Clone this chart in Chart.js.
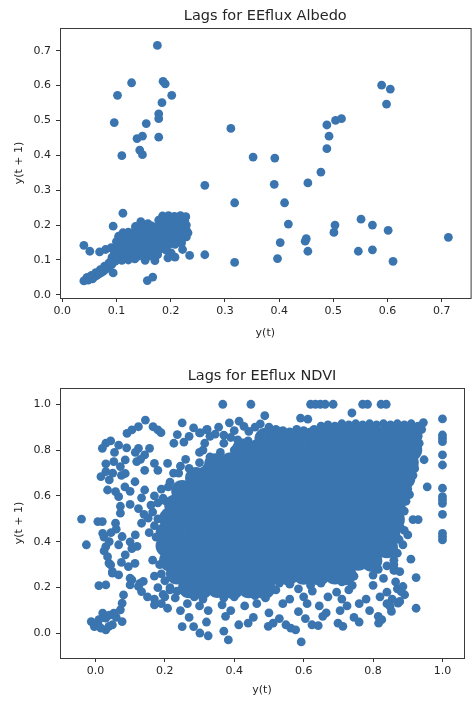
<!DOCTYPE html>
<html>
<head>
<meta charset="utf-8">
<script src="https://cdn.jsdelivr.net/npm/chart.js@4.4.1/dist/chart.umd.min.js"></script>
<style>
  html, body { margin: 0; padding: 0; background: #fff; }
  canvas { position: absolute; left: 0; display: block; }
</style>
</head>
<body>
<canvas id="albedo" width="475" height="350" style="top:0"></canvas>
<canvas id="ndvi" width="475" height="351" style="top:350px"></canvas>
<script>
// tick values
const albedoXTicks = [0, 0.1, 0.2, 0.3, 0.4, 0.5, 0.6, 0.7];
const albedoYTicks = [0, 0.1, 0.2, 0.3, 0.4, 0.5, 0.6, 0.7];
const ndviXTicks = [0, 0.2, 0.4, 0.6, 0.8, 1.0];
const ndviYTicks = [0, 0.2, 0.4, 0.6, 0.8, 1.0];

// albedo lag pairs [y(t), y(t+1)]
const albedoLags = [
  // scattered
  [0.1755,0.715],[0.128,0.608],[0.186,0.612],[0.190,0.605],[0.102,0.572],[0.202,0.572],[0.184,0.551],
  [0.096,0.494],[0.178,0.519],[0.178,0.505],[0.155,0.491],[0.138,0.448],[0.148,0.455],[0.178,0.452],
  [0.143,0.415],[0.148,0.402],[0.110,0.399],[0.311,0.477],[0.352,0.395],[0.392,0.392],[0.391,0.317],
  [0.318,0.264],[0.410,0.264],[0.417,0.203],[0.402,0.150],[0.397,0.104],[0.263,0.314],[0.263,0.115],
  [0.318,0.093],[0.448,0.154],[0.450,0.161],[0.453,0.125],[0.453,0.321],[0.477,0.352],[0.488,0.419],
  [0.492,0.455],[0.488,0.487],[0.504,0.500],[0.515,0.505],[0.503,0.200],[0.501,0.179],[0.551,0.217],
  [0.572,0.200],[0.546,0.125],[0.572,0.129],[0.601,0.185],[0.610,0.096],[0.589,0.601],[0.605,0.590],
  [0.598,0.547],[0.712,0.165],
  // main cluster
  [0.112,0.234],[0.185,0.226],[0.196,0.227],[0.207,0.225],[0.218,0.227],[0.228,0.224],
  [0.145,0.210],[0.158,0.204],[0.178,0.214],[0.190,0.216],[0.202,0.214],[0.214,0.216],[0.226,0.213],
  [0.094,0.197],[0.135,0.196],[0.150,0.194],[0.165,0.198],[0.178,0.200],[0.190,0.202],[0.205,0.201],[0.218,0.203],[0.229,0.200],
  [0.112,0.178],[0.122,0.180],[0.134,0.183],[0.146,0.185],[0.158,0.184],[0.170,0.187],[0.182,0.185],[0.194,0.188],[0.206,0.186],[0.218,0.188],[0.229,0.185],
  [0.104,0.168],[0.116,0.171],[0.128,0.169],[0.140,0.172],[0.152,0.170],[0.164,0.173],[0.176,0.171],[0.188,0.174],[0.200,0.172],[0.212,0.174],[0.224,0.171],[0.229,0.166],
  [0.100,0.153],[0.112,0.156],[0.124,0.154],[0.136,0.157],[0.148,0.155],[0.160,0.158],[0.172,0.156],[0.184,0.159],[0.196,0.157],[0.208,0.159],[0.220,0.156],[0.232,0.178],
  [0.090,0.135],[0.100,0.140],[0.112,0.142],[0.124,0.140],[0.136,0.143],[0.148,0.141],[0.160,0.144],[0.172,0.142],[0.184,0.145],[0.196,0.143],[0.208,0.145],[0.220,0.148],
  [0.096,0.124],[0.108,0.127],[0.120,0.125],[0.132,0.128],[0.144,0.126],[0.156,0.129],[0.168,0.127],[0.180,0.130],[0.192,0.128],[0.201,0.120],[0.222,0.130],
  [0.092,0.108],[0.104,0.112],[0.116,0.110],[0.128,0.113],[0.140,0.111],[0.152,0.114],[0.164,0.112],[0.176,0.115],[0.195,0.106],[0.208,0.108],[0.235,0.113],
  [0.098,0.097],[0.110,0.099],[0.122,0.100],[0.134,0.103],[0.153,0.099],[0.171,0.098],
  [0.040,0.040],[0.044,0.045],[0.048,0.042],[0.052,0.048],[0.056,0.046],[0.060,0.052],[0.064,0.056],[0.068,0.060],
  [0.072,0.064],[0.076,0.068],[0.080,0.073],[0.084,0.078],[0.088,0.083],[0.092,0.088],[0.086,0.090],[0.078,0.082],
  [0.070,0.072],[0.062,0.064],[0.054,0.056],[0.046,0.050],[0.094,0.063],[0.088,0.094],
  [0.040,0.142],[0.051,0.125],[0.069,0.123],[0.080,0.130],[0.157,0.041],[0.167,0.051]
];

// ndvi lag pairs, solid middle of the cloud (drawn with wider dots)
const ndviCore = [
  [0.49,0.85],[0.535,0.853],[0.58,0.848],[0.625,0.852],
  [0.665,0.866],[0.71,0.862],[0.755,0.867],[0.80,0.864],[0.845,0.868],[0.885,0.863],[0.91,0.866],
  [0.425,0.803],[0.468,0.799],[0.512,0.804],[0.557,0.798],[0.602,0.802],[0.648,0.799],[0.692,0.803],[0.737,0.798],[0.782,0.802],[0.828,0.799],[0.872,0.803],[0.91,0.80],
  [0.345,0.738],[0.39,0.743],[0.435,0.739],[0.48,0.741],[0.525,0.737],[0.57,0.742],[0.615,0.738],[0.66,0.743],[0.705,0.739],[0.75,0.741],[0.795,0.737],[0.84,0.742],[0.885,0.739],[0.90,0.745],
  [0.29,0.678],[0.32,0.683],[0.367,0.679],[0.412,0.682],[0.457,0.678],[0.502,0.683],[0.547,0.679],[0.592,0.681],[0.637,0.677],[0.682,0.682],[0.727,0.679],[0.772,0.683],[0.817,0.678],[0.862,0.681],[0.89,0.676],
  [0.25,0.622],[0.285,0.618],[0.33,0.621],[0.375,0.617],[0.42,0.623],[0.465,0.619],[0.51,0.622],[0.555,0.618],[0.60,0.621],[0.645,0.617],[0.69,0.622],[0.735,0.619],[0.78,0.623],[0.825,0.618],[0.87,0.62],
  [0.23,0.558],[0.262,0.562],[0.307,0.559],[0.352,0.563],[0.397,0.558],[0.442,0.561],[0.487,0.557],[0.532,0.562],[0.577,0.559],[0.622,0.563],[0.667,0.558],[0.712,0.561],[0.757,0.557],[0.802,0.562],[0.847,0.559],[0.862,0.556],
  [0.215,0.502],[0.24,0.498],[0.285,0.501],[0.33,0.497],[0.375,0.503],[0.42,0.499],[0.465,0.502],[0.51,0.498],[0.555,0.501],[0.60,0.497],[0.645,0.503],[0.69,0.499],[0.735,0.502],[0.78,0.498],[0.825,0.501],[0.86,0.497],
  [0.205,0.438],[0.24,0.442],[0.262,0.437],[0.307,0.441],[0.352,0.438],[0.397,0.443],[0.442,0.439],[0.487,0.442],[0.532,0.437],[0.577,0.441],[0.622,0.438],[0.667,0.443],[0.712,0.439],[0.757,0.442],[0.802,0.438],[0.847,0.44],
  [0.205,0.382],[0.24,0.378],[0.285,0.381],[0.33,0.377],[0.375,0.383],[0.42,0.379],[0.465,0.382],[0.51,0.378],[0.555,0.381],[0.60,0.377],[0.645,0.383],[0.69,0.379],[0.735,0.382],[0.78,0.378],[0.825,0.381],[0.84,0.376],
  [0.215,0.318],[0.24,0.322],[0.262,0.317],[0.307,0.321],[0.352,0.318],[0.397,0.323],[0.442,0.319],[0.487,0.322],[0.532,0.317],[0.577,0.321],[0.622,0.318],[0.667,0.323],[0.712,0.319],[0.757,0.322],[0.795,0.318],
  [0.235,0.262],[0.285,0.258],[0.33,0.261],[0.375,0.257],[0.42,0.263],[0.465,0.259],[0.51,0.262],[0.555,0.258],[0.60,0.261],[0.645,0.257],[0.69,0.262],[0.72,0.258],
  [0.27,0.202],[0.307,0.198],[0.352,0.203],[0.397,0.199],[0.442,0.202],[0.487,0.198]
];

// ndvi lag pairs, everything around the solid middle
const ndviLags = [
  // y(t+1) = 1 and y(t) = 1
  [0.367,1],[0.448,1],[0.620,1],[0.634,1],[0.648,1],[0.662,1],[0.685,1],[0.770,1],[0.784,1],[0.823,1],[0.838,1],
  [1,0.936],[1,0.866],[1,0.852],[1,0.837],[1,0.779],[1,0.735],[1,0.634],[1,0.597],[1,0.583],[1,0.568],[1,0.52],[1,0.437],[1,0.423],[1,0.408],
  [0.956,0.64],[-0.040,0.499],[-0.026,0.387],[0.007,0.488],[0.020,0.488],[0.021,0.437],[0.010,0.209],[0.030,0.212],
  [0.383,-0.028],[0.593,-0.037],[0.739,0.962],[0.488,0.950],[0.591,0.940],[0.612,0.935],
  // top band
  [0.30,0.875],[0.322,0.890],[0.345,0.870],[0.355,0.900],[0.37,0.865],[0.386,0.919],[0.40,0.885],[0.414,0.926],
  [0.428,0.904],[0.442,0.882],[0.46,0.90],[0.475,0.914],[0.50,0.90],[0.52,0.89],[0.54,0.885],[0.56,0.88],[0.58,0.89],
  [0.60,0.885],[0.63,0.89],[0.65,0.905],[0.67,0.91],[0.69,0.905],[0.71,0.915],[0.73,0.91],[0.75,0.915],[0.77,0.91],
  [0.79,0.915],[0.81,0.91],[0.83,0.915],[0.85,0.91],[0.87,0.915],[0.89,0.91],[0.91,0.915],[0.93,0.905],[0.94,0.89],
  [0.31,0.80],[0.33,0.77],[0.36,0.79],[0.38,0.765],[0.40,0.80],[0.37,0.83],[0.41,0.845],[0.30,0.745],[0.32,0.72],[0.39,0.855],[0.44,0.84],
  // upper left
  [0.020,0.808],[0.030,0.830],[0.044,0.840],[0.067,0.822],[0.091,0.873],[0.105,0.888],[0.124,0.902],[0.144,0.931],
  [0.166,0.902],[0.180,0.888],[0.189,0.876],[0.124,0.808],[0.142,0.779],[0.156,0.808],[0.170,0.742],
  [0.142,0.712],[0.119,0.750],[0.086,0.698],[0.114,0.662],[0.142,0.626],[0.180,0.712],[0.208,0.742],
  [0.226,0.830],[0.236,0.868],[0.250,0.919],[0.283,0.897],[0.302,0.875],[0.320,0.888],[0.016,0.684],[0.030,0.706],
  [0.040,0.670],[0.035,0.626],[0.058,0.619],[0.067,0.597],[0.053,0.750],[0.072,0.728],[0.086,0.757],
  [0.255,0.835],[0.270,0.860],[0.300,0.790],[0.315,0.830],[0.330,0.860],[0.260,0.760],[0.245,0.730],[0.225,0.700],
  [0.215,0.660],[0.190,0.630],[0.170,0.600],[0.195,0.590],[0.100,0.620],
  [0.085,0.640],[0.075,0.690],[0.050,0.700],
  [0.130,0.760],[0.115,0.790],[0.090,0.810],[0.055,0.790],[0.030,0.740],
  [0.072,0.555],[0.100,0.563],[0.133,0.592],[0.160,0.560],[0.180,0.570],
  [0.21,0.64],[0.24,0.70],[0.20,0.58],[0.27,0.72],
  // left side
  [0.058,0.481],[0.072,0.525],[0.124,0.545],[0.133,0.481],[0.152,0.503],[0.030,0.379],
  [0.040,0.401],[0.035,0.335],[0.044,0.299],[0.049,0.270],[0.067,0.256],[0.067,0.387],[0.077,0.423],[0.086,0.343],
  [0.095,0.292],[0.114,0.306],[0.105,0.234],[0.124,0.205],[0.138,0.227],[0.100,0.212],[0.128,0.219],[0.133,0.183],
  [0.100,0.241],[0.039,0.307],[0.049,0.263],
  [0.025,0.420],[0.045,0.440],[0.060,0.455],[0.115,0.430],[0.100,0.400],[0.120,0.380],
  [0.155,0.440],[0.170,0.470],[0.140,0.520],[0.165,0.530],[0.180,0.500],[0.165,0.320],
  [0.170,0.250],[0.180,0.200],[0.105,0.370],[0.075,0.310],
  [0.025,0.360],[0.175,0.420],[0.185,0.300],[0.190,0.260],[0.200,0.230],[0.215,0.200],
  [0.195,0.170],[0.170,0.150],[0.150,0.160],
  // bottom left
  [-0.012,0.052],[-0.003,0.030],[0.030,0.016],[0.049,0.038],[0.021,0.089],[0.053,0.089],[0.077,0.052],[0.072,0.103],
  [0.077,0.132],[0.081,0.168],[0.007,0.045],[0.030,0.067],[0.039,0.031],[0.016,0.023],[0.060,0.070],[0.040,0.080],[0.010,0.060],
  [0.170,0.125],[0.208,0.110],
  // bottom
  [0.79,0.29],[0.815,0.28],[0.84,0.295],[0.86,0.275],
  [0.745,0.25],[0.80,0.255],[0.83,0.24],
  [0.53,0.22],[0.56,0.215],[0.62,0.21],[0.65,0.22],[0.71,0.225],[0.74,0.21],[0.80,0.21],[0.865,0.225],
  [0.215,0.19],[0.235,0.185],[0.52,0.19],[0.585,0.195],[0.625,0.185],[0.695,0.18],[0.73,0.19],[0.84,0.18],[0.87,0.195],
  [0.20,0.16],[0.23,0.155],[0.285,0.16],[0.31,0.15],[0.37,0.155],[0.40,0.16],[0.46,0.165],[0.49,0.155],
  [0.56,0.15],[0.60,0.16],[0.67,0.16],[0.71,0.15],[0.78,0.15],[0.82,0.16],[0.855,0.15],
  [0.19,0.13],[0.265,0.13],[0.30,0.12],[0.365,0.125],[0.43,0.12],[0.465,0.13],
  [0.54,0.13],[0.61,0.13],[0.645,0.12],[0.725,0.12],[0.76,0.13],[0.84,0.13],
  [0.245,0.10],[0.325,0.10],[0.39,0.10],[0.50,0.09],
  [0.585,0.095],[0.665,0.09],[0.705,0.10],[0.79,0.10],
  [0.27,0.07],[0.375,0.075],[0.455,0.07],[0.53,0.065],[0.605,0.065],
  [0.655,0.075],[0.745,0.07],[0.815,0.075],
  [0.25,0.03],[0.283,0.03],[0.32,0.05],[0.413,0.038],[0.44,0.045],[0.498,0.031],[0.512,0.045],
  [0.549,0.038],[0.563,0.023],[0.577,0.016],[0.624,0.038],[0.642,0.034],[0.699,0.045],[0.713,0.031],
  [0.76,0.05],[0.816,0.045],[0.825,0.06],
  [0.301,0.002],[0.325,-0.01],[0.37,0.01],
  // right side
  [0.849,0.118],[0.877,0.140],[0.886,0.205],[0.891,0.169],[0.877,0.270],[0.924,0.110],[0.924,0.244],[0.909,0.324],
  [0.886,0.387],[0.900,0.430],[0.853,0.096],[0.872,0.132],[0.881,0.183],[0.863,0.277],[0.87,0.35],[0.86,0.32],
  [0.875,0.41],[0.89,0.45],[0.945,0.92],[0.947,0.758],[0.933,0.83],[0.905,0.664],[0.905,0.606],[0.895,0.577],
  [0.89,0.534],[0.915,0.497],[0.930,0.497],[0.925,0.80],[0.93,0.86],[0.92,0.72],[0.915,0.69],[0.90,0.63],
  [0.88,0.46],[0.86,0.30]
];

const BLUE = 'rgb(58,117,176)';
const FONT = 'DejaVu Sans';
const INK = '#262626';

// matplotlib-style box round the plot area, and the title centred over it
const frame = {
  id: 'frame',
  afterDraw(chart, args, opts) {
    const { ctx, chartArea: a } = chart;
    ctx.save();
    ctx.strokeStyle = '#3a3a3a';
    ctx.lineWidth = 1;
    ctx.strokeRect(a.left + 0.5, a.top + 0.5, a.right - a.left, a.bottom - a.top);
    ctx.fillStyle = INK;
    ctx.font = '14.5px "' + FONT + '"';
    ctx.textAlign = 'center';
    ctx.textBaseline = 'middle';
    ctx.fillText(opts.text, (a.left + a.right) / 2, opts.y);
    ctx.restore();
  }
};

function axis(range, ticks, label, size, horiz) {
  return {
    type: 'linear',
    position: horiz ? 'bottom' : 'left',
    min: range[0],
    max: range[1],
    afterBuildTicks: s => { s.ticks = ticks.map(v => ({ value: v })); },
    afterFit: s => { if (horiz) s.height = size; else s.width = size; },
    ticks: {
      color: INK, font: { family: FONT, size: 11 }, padding: horiz ? 3 : 5,
      maxRotation: 0, autoSkip: false, callback: v => v.toFixed(1)
    },
    grid: { drawOnChartArea: false, tickLength: 4, color: '#333', tickWidth: 1 },
    border: { display: false },
    title: {
      display: true, text: label, color: INK, font: { family: FONT, size: 11 },
      padding: horiz ? { top: 0, bottom: 0 } : { top: 12.4, bottom: 0 }
    }
  };
}

function lagChart(id, title, sets, o) {
  return new Chart(document.getElementById(id), {
    type: 'scatter',
    data: {
      datasets: sets.map(s => ({
        data: s.pts.map(p => ({ x: p[0], y: p[1] })),
        pointRadius: s.r, pointHoverRadius: s.r,
        backgroundColor: BLUE, borderWidth: 0
      }))
    },
    options: {
      responsive: false, animation: false, events: [],
      layout: { padding: { left: 0, right: 1, top: o.top, bottom: o.padBottom } },
      plugins: {
        legend: { display: false },
        tooltip: { enabled: false },
        title: { display: false },
        frame: { text: title, y: o.titleY }
      },
      scales: {
        x: axis(o.x, o.xTicks, 'y(t)', o.xh, true),
        y: axis(o.y, o.yTicks, 'y(t + 1)', 60, false)
      }
    },
    plugins: [frame]
  });
}

lagChart('albedo', 'Lags for EEflux Albedo', [{ pts: albedoLags, r: 4.4 }], {
  x: [-0.004, 0.753], y: [-0.009, 0.765], xTicks: albedoXTicks, yTicks: albedoYTicks,
  top: 28, padBottom: 10.4, xh: 41.6, titleY: 16.7
});

lagChart('ndvi', 'Lags for EEflux NDVI', [{ pts: ndviCore, r: 11 }, { pts: ndviLags, r: 4.4 }], {
  x: [-0.102, 1.062], y: [-0.107, 1.071], xTicks: ndviXTicks, yTicks: ndviYTicks,
  top: 38, padBottom: 4.4, xh: 38.6, titleY: 26
});
</script>
</body>
</html>
